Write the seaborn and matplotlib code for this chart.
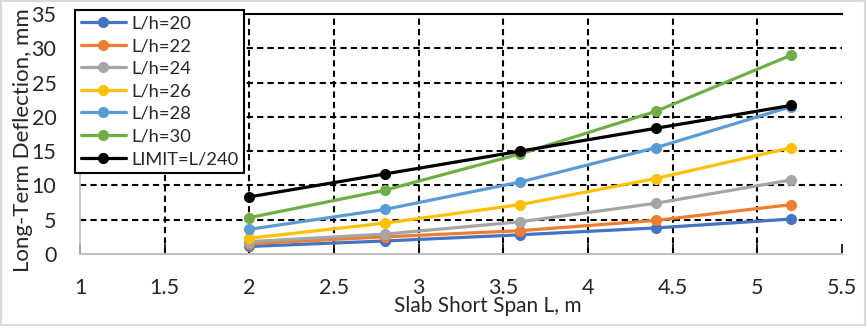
import matplotlib
matplotlib.use("Agg")
import matplotlib.pyplot as plt
import seaborn as sns
import pandas as pd
from matplotlib.patches import Rectangle

span = [2.0, 2.8, 3.6, 4.4, 5.2]
series_names = ["L/h=20", "L/h=22", "L/h=24", "L/h=26", "L/h=28", "L/h=30", "LIMIT=L/240"]
lh20 = [1.1, 1.9, 2.8, 3.8, 5.1]
lh22 = [1.5, 2.5, 3.4, 4.9, 7.2]
lh24 = [1.8, 2.9, 4.7, 7.4, 10.8]
lh26 = [2.3, 4.5, 7.2, 11.0, 15.5]
lh28 = [3.6, 6.5, 10.5, 15.5, 21.5]
lh30 = [5.3, 9.3, 14.6, 20.8, 29.0]
limit = [8.33, 11.67, 15.0, 18.33, 21.67]
colors = ["#4472C4", "#ED7D31", "#A5A5A5", "#FFC000", "#5B9BD5", "#70AD47", "#000000"]
x_ticks = [1, 1.5, 2, 2.5, 3, 3.5, 4, 4.5, 5, 5.5]
y_ticks = [0, 5, 10, 15, 20, 25, 30, 35]

all_vals = [lh20, lh22, lh24, lh26, lh28, lh30, limit]
rows = []
for name, vals in zip(series_names, all_vals):
    for xv, yv in zip(span, vals):
        rows.append({"L": xv, "Deflection": yv, "Series": name})
df = pd.DataFrame(rows)

sns.set_style("white")
plt.rcParams['font.family'] = ['Lato', 'DejaVu Sans']

fig = plt.figure(figsize=(8.67, 3.26), dpi=100)
ax = fig.add_axes([80/867, 1-254/326, (842-80)/867, (254-14)/326])

sns.lineplot(data=df, x="L", y="Deflection", hue="Series", hue_order=series_names,
             palette=colors, marker="o", markersize=8, markeredgewidth=0,
             linewidth=2.3, ax=ax, zorder=3)

ax.set_xlim(1, 5.5)
ax.set_ylim(0, 35)
ax.set_xticks(x_ticks)
ax.set_xticklabels([f"{t:g}" for t in x_ticks])
ax.set_yticks(y_ticks)
ax.set_yticklabels([f"{t:g}" for t in y_ticks])
ax.tick_params(axis="x", direction="in", length=7, width=1.2, color="black",
               labelsize=15.5, pad=17, bottom=True)
ax.tick_params(axis="y", length=0, labelsize=15.5, pad=17)

for xv in x_ticks[1:-1]:
    ax.axvline(xv, color="black", linestyle=(0, (3, 2)), linewidth=1.5, zorder=1)
for yv in y_ticks[1:-1]:
    ax.axhline(yv, color="black", linestyle=(0, (3, 2)), linewidth=1.5, zorder=1)

ax.spines["top"].set_visible(True)
ax.spines["top"].set_color("black")
ax.spines["top"].set_linewidth(1.5)
ax.spines["right"].set_visible(False)
ax.spines["left"].set_color("#BFBFBF")
ax.spines["left"].set_linewidth(1.2)
ax.spines["bottom"].set_color("#BFBFBF")
ax.spines["bottom"].set_linewidth(1.5)

ax.set_xlabel("Slab Short Span L, m", fontsize=15)
ax.set_ylabel("Long-Term Deflection, mm", fontsize=16)
ax.xaxis.set_label_coords((488-80)/762, (254-306)/240)
ax.yaxis.set_label_coords((23-80)/762, (254-140)/240)
ax.xaxis.label.set_va("center")
ax.yaxis.label.set_va("center")

leg = ax.legend(loc="upper left", bbox_to_anchor=(-5/762, 1.017), fontsize=13.2,
                frameon=True, fancybox=False, edgecolor="black", handlelength=2.5,
                labelspacing=0.36, borderpad=0.3, handletextpad=0.25, borderaxespad=0)
leg.get_frame().set_linewidth(1.5)
leg.get_frame().set_alpha(1)
leg.set_zorder(5)

fig.patches.append(Rectangle((0.001, 0.002), 0.997, 0.995, transform=fig.transFigure,
                             fill=False, edgecolor="#D9D9D9", linewidth=1.5))

fig.savefig("out.png", dpi=100)
